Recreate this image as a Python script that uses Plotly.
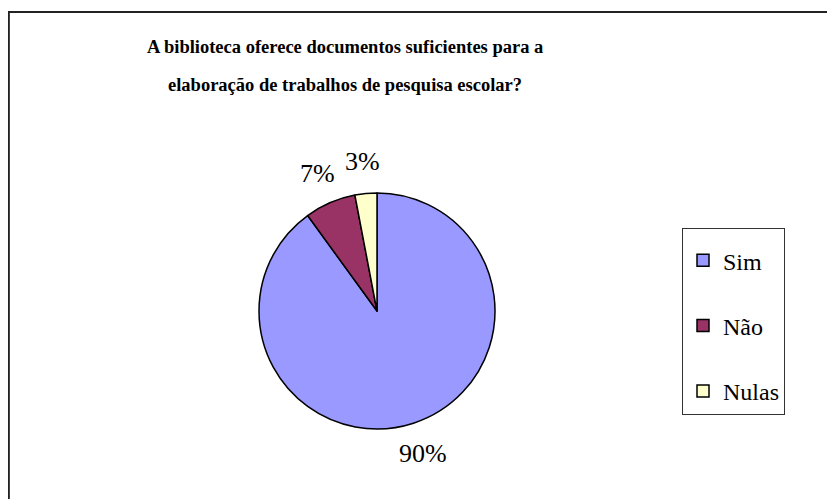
import math
import plotly.graph_objects as go

# data
labels = ['Sim', 'Não', 'Nulas']
values = [90, 7, 3]
colors = ['#9999FF', '#993366', '#FFFFCC']

title_lines = ['A biblioteca oferece documentos suficientes para a',
               'elaboração de trabalhos de pesquisa escolar?']

W, H = 835, 499
SERIF = 'Liberation Serif, Times New Roman, serif'

# pie placement in figure pixels (page body adds an 8px offset)
cx, cy, r = 369, 303, 118

# pad legend entries with an empty line so items sit far apart like the original
legend_labels = [l + '<br> ' for l in labels[:-1]] + [labels[-1]]

fig = go.Figure()

fig.add_trace(go.Pie(
    labels=legend_labels,
    values=values,
    sort=False,
    direction='clockwise',
    rotation=0,
    marker=dict(colors=colors, line=dict(color='black', width=1.5)),
    textinfo='none',
    hoverinfo='skip',
    domain=dict(x=[(cx - r) / W, (cx + r) / W],
                y=[1 - (cy + r) / H, 1 - (cy - r) / H]),
))

# percentage labels outside the slices, at each slice's mid angle
total = sum(values)
start = 0.0
for v in values:
    mid = math.radians((start + v / 2) / total * 360)
    start += v
    d = r * 1.27
    fig.add_annotation(
        text=f'{round(v / total * 100)}%',
        xref='paper', yref='paper',
        x=(cx + d * math.sin(mid)) / W,
        y=1 - (cy - d * math.cos(mid)) / H,
        xanchor='center', yanchor='middle',
        showarrow=False,
        font=dict(family=SERIF, size=26, color='black'),
    )

# title, two centred lines over the plot area
for i, line in enumerate(title_lines):
    fig.add_annotation(
        text='<b>' + line + '</b>',
        xref='paper', yref='paper',
        x=337 / W, y=1 - (39 + i * 38) / H,
        xanchor='center', yanchor='middle',
        showarrow=False,
        font=dict(family=SERIF, size=18.5, color='black'),
    )

# chart area border (right and bottom edges fall outside the picture)
fig.add_shape(type='rect', xref='paper', yref='paper',
              x0=0.001, x1=1.02, y0=-0.02, y1=1 - 4 / H,
              line=dict(color='#222222', width=2))

fig.update_layout(
    width=W, height=H,
    margin=dict(l=0, r=0, t=0, b=0),
    paper_bgcolor='white',
    plot_bgcolor='white',
    font=dict(family=SERIF, color='black'),
    showlegend=True,
    legend=dict(
        x=674 / W, y=1 - 220 / H,
        xanchor='left', yanchor='top',
        bordercolor='#333333', borderwidth=1,
        bgcolor='white',
        valign='top',
        title=dict(text=' ', font=dict(size=7)),
        font=dict(family=SERIF, size=24, color='black'),
        itemclick=False,
    ),
)

fig.write_html("out.html")
